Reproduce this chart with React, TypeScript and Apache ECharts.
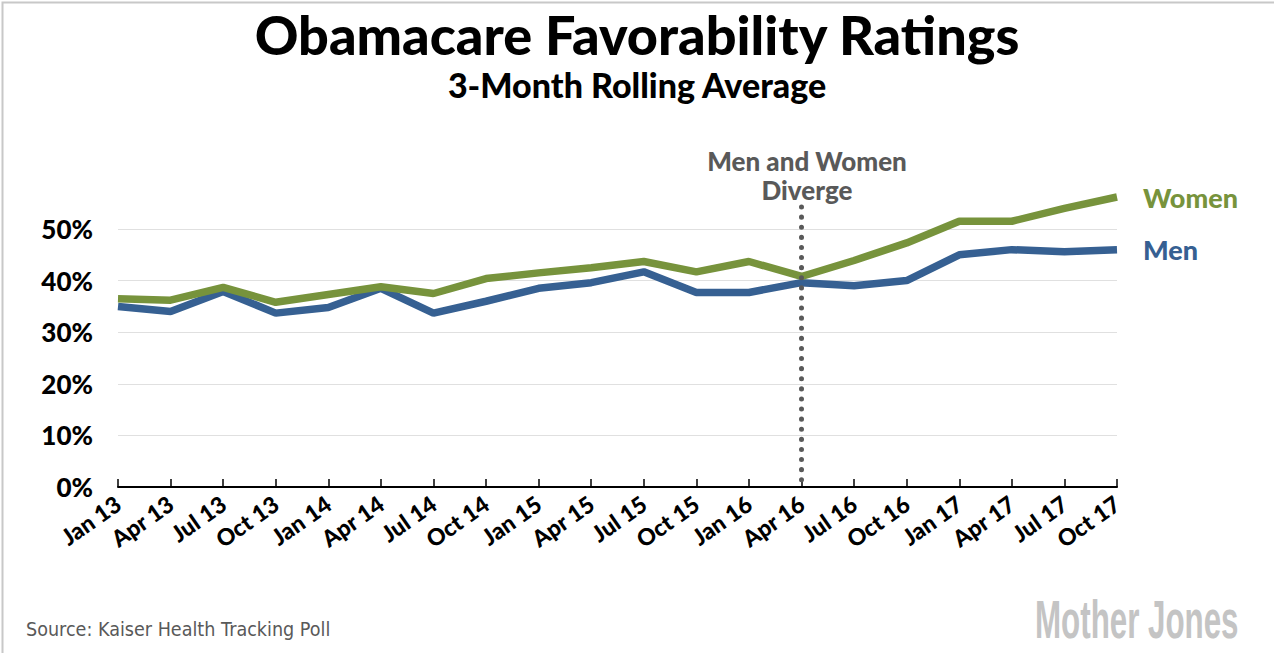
import React, { useEffect, useRef } from "react";
import * as echarts from "echarts";

const categories = [
  "Jan 13", "Apr 13", "Jul 13", "Oct 13", "Jan 14", "Apr 14", "Jul 14", "Oct 14",
  "Jan 15", "Apr 15", "Jul 15", "Oct 15", "Jan 16", "Apr 16", "Jul 16", "Oct 16",
  "Jan 17", "Apr 17", "Jul 17", "Oct 17",
];
const women = [36.5, 36.2, 38.7, 35.8, 37.3, 38.8, 37.5, 40.4, 41.5, 42.5, 43.7, 41.7, 43.7, 40.8, 43.9, 47.3, 51.5, 51.5, 54.0, 56.2];
const men = [35.0, 34.0, 37.9, 33.7, 34.8, 38.5, 33.7, 36.0, 38.5, 39.6, 41.7, 37.7, 37.7, 39.6, 39.0, 40.0, 45.0, 46.0, 45.6, 46.0];
const yTicks = [0, 10, 20, 30, 40, 50];
const markerCategory = "Apr 16";

const GREEN = "#77933c";
const BLUE = "#366092";
const FONT = "Lato, 'Noto Sans', sans-serif";

export default function App() {
  const ref = useRef<HTMLDivElement>(null);
  useEffect(() => {
    document.body.style.margin = "0";
    const chart = echarts.init(ref.current!, null, { renderer: "svg" });
    chart.setOption({
      animation: false,
      backgroundColor: "#fff",
      grid: { left: 118, right: 157, top: 229, bottom: 166, containLabel: false },
      title: [
        {
          text: "Obamacare Favorability Ratings",
          left: "center",
          top: 2,
          textStyle: { fontFamily: FONT, fontWeight: 900, fontSize: 54, color: "#000" },
        },
        {
          text: "3-Month Rolling Average",
          left: "center",
          top: 62,
          textStyle: { fontFamily: FONT, fontWeight: 900, fontSize: 34, color: "#000" },
        },
      ],
      xAxis: {
        type: "category",
        data: categories,
        boundaryGap: false,
        axisLine: { lineStyle: { color: "#000", width: 2 } },
        axisTick: { inside: true, length: 8, lineStyle: { color: "#000", width: 1.5 }, alignWithLabel: true },
        axisLabel: {
          rotate: 35,
          interval: 0,
          margin: 14,
          fontFamily: FONT,
          fontWeight: 900,
          fontSize: 23,
          color: "#000",
        },
        splitLine: { show: false },
      },
      yAxis: {
        type: "value",
        min: 0,
        max: 50,
        interval: 10,
        axisLine: { show: false },
        axisTick: { show: false },
        axisLabel: {
          margin: 25,
          fontFamily: FONT,
          fontWeight: 900,
          fontSize: 26,
          color: "#000",
          formatter: (v: number) => (yTicks.includes(v) ? v + "%" : ""),
        },
        splitLine: { lineStyle: { color: "#e0e0e0", width: 1 } },
      },
      series: [
        {
          name: "Women",
          type: "line",
          data: women,
          clip: false,
          symbol: "none",
          lineStyle: { color: GREEN, width: 7.5 },
          endLabel: {
            show: true,
            formatter: "Women",
            distance: 26,
            fontFamily: FONT,
            fontWeight: 900,
            fontSize: 27,
            color: GREEN,
          },
          z: 3,
        },
        {
          name: "Men",
          type: "line",
          data: men,
          clip: false,
          symbol: "none",
          lineStyle: { color: BLUE, width: 7.5 },
          endLabel: {
            show: true,
            formatter: "Men",
            distance: 26,
            fontFamily: FONT,
            fontWeight: 900,
            fontSize: 27,
            color: BLUE,
          },
          markLine: {
            silent: true,
            symbol: "none",
            lineStyle: { color: "#595959", type: [0.1, 10], width: 5, cap: "round" },
            label: { show: false },
            data: [[{ xAxis: markerCategory, y: 207 }, { xAxis: markerCategory, yAxis: 0 }]],
          },
          z: 2,
        },
      ],
      graphic: [
        {
          type: "rect",
          left: 0,
          top: 0,
          shape: { width: 1273, height: 652 },
          style: { fill: "none", stroke: "#c8c8c8", lineWidth: 2 },
          silent: true,
        },
        {
          type: "text",
          x: 807,
          y: 146,
          style: {
            text: "Men and Women\nDiverge",
            align: "center",
            fontFamily: FONT,
            fontWeight: 900,
            fontSize: 26,
            lineHeight: 29,
            fill: "#595959",
          },
        },
        {
          type: "text",
          x: 26,
          y: 619,
          style: {
            text: "Source: Kaiser Health Tracking Poll",
            fontFamily: "'DejaVu Sans', sans-serif",
            fontSize: 20,
            fill: "#595959",
          },
          scaleX: 0.88,
        },
        {
          type: "text",
          x: 1035,
          y: 592,
          scaleX: 0.58,
          style: {
            text: "Mother Jones",
            fontFamily: "'Liberation Sans', Arial, sans-serif",
            fontWeight: "bold",
            fontSize: 54,
            fill: "#c4c4c4",
            letterSpacing: -2,
          },
        },
      ],
    });
    return () => chart.dispose();
  }, []);
  return <div ref={ref} style={{ width: 1274, height: 653 }} />;
}
